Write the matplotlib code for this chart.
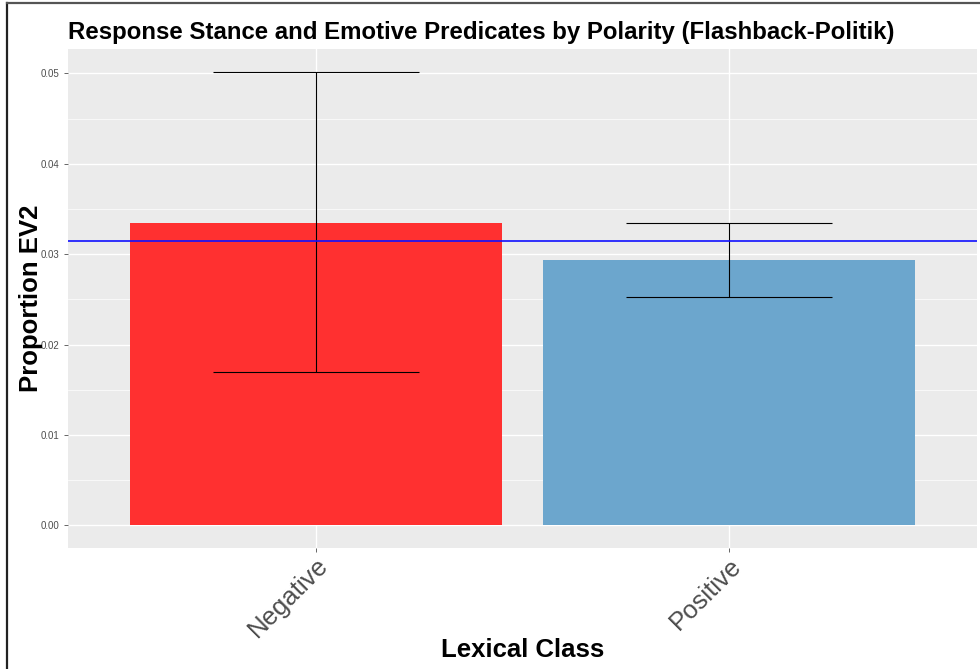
import matplotlib.pyplot as plt
from matplotlib.lines import Line2D
import numpy as np

plt.rcParams['font.family'] = ['Liberation Sans', 'DejaVu Sans']

classes = ['Negative', 'Positive']
proportion = [0.0335, 0.0293]
ci_low = [0.0170, 0.0253]
ci_high = [0.0502, 0.0335]
overall_mean = 0.0315
bar_colors = ['#FF3030', '#6CA6CD']

fig = plt.figure(figsize=(9.8, 6.69), dpi=100)
ax = fig.add_axes([0.0694, 0.181, 0.9276, 0.7458])
ax.set_facecolor('#EBEBEB')

x = np.arange(1, len(classes) + 1)
ax.bar(x, proportion, width=0.9, color=bar_colors, zorder=2)

# error bars drawn as ggplot-style whiskers
for xi, lo, hi in zip(x, ci_low, ci_high):
    ax.vlines(xi, lo, hi, color='black', lw=0.8, zorder=3)
    ax.hlines([lo, hi], xi - 0.25, xi + 0.25, color='black', lw=0.8, zorder=3)

ax.axhline(overall_mean, color='#1010FF', lw=1.2, zorder=4)

top = max(ci_high)
ax.set_xlim(0.4, len(classes) + 0.6)
ax.set_ylim(-0.05 * top, top * 1.05)

ax.set_yticks(np.arange(0, 0.051, 0.01))
ax.set_yticks(np.arange(0.005, 0.051, 0.01), minor=True)
ax.set_yticklabels(['%.2f' % v for v in np.arange(0, 0.051, 0.01)])
ax.set_xticks(x)
ax.set_xticklabels(classes, rotation=45, ha='right', rotation_mode='anchor',
                   fontsize=18.5, color='#4D4D4D')
ax.tick_params(axis='y', labelsize=7, colors='#4D4D4D', length=3, width=0.6)
ax.tick_params(axis='x', colors='#4D4D4D', length=3, width=0.6, pad=1)
ax.tick_params(axis='y', which='minor', length=0)

ax.grid(True, which='major', color='white', lw=1.0, zorder=0)
ax.grid(True, which='minor', axis='y', color='white', lw=0.5, zorder=0)
ax.set_axisbelow(True)
for s in ax.spines.values():
    s.set_visible(False)

ax.set_xlabel('Lexical Class', fontsize=18.5, fontweight='bold')
ax.set_ylabel('Proportion EV2', fontsize=18.5, fontweight='bold')
ax.xaxis.set_label_coords(0.5, -0.18)
ax.yaxis.set_label_coords(-0.027, 0.5)
ax.set_title('Response Stance and Emotive Predicates by Polarity (Flashback-Politik)',
             fontsize=17.3, fontweight='bold', loc='left', pad=7)

# outer frame on the left and top edges
fig.add_artist(Line2D([7 / 980, 7 / 980], [0, 1 - 3 / 669], transform=fig.transFigure,
                      color='#222222', lw=1.6))
fig.add_artist(Line2D([7 / 980, 1], [1 - 3 / 669, 1 - 3 / 669], transform=fig.transFigure,
                      color='#555555', lw=1.6))

fig.savefig('out.png', dpi=100)
